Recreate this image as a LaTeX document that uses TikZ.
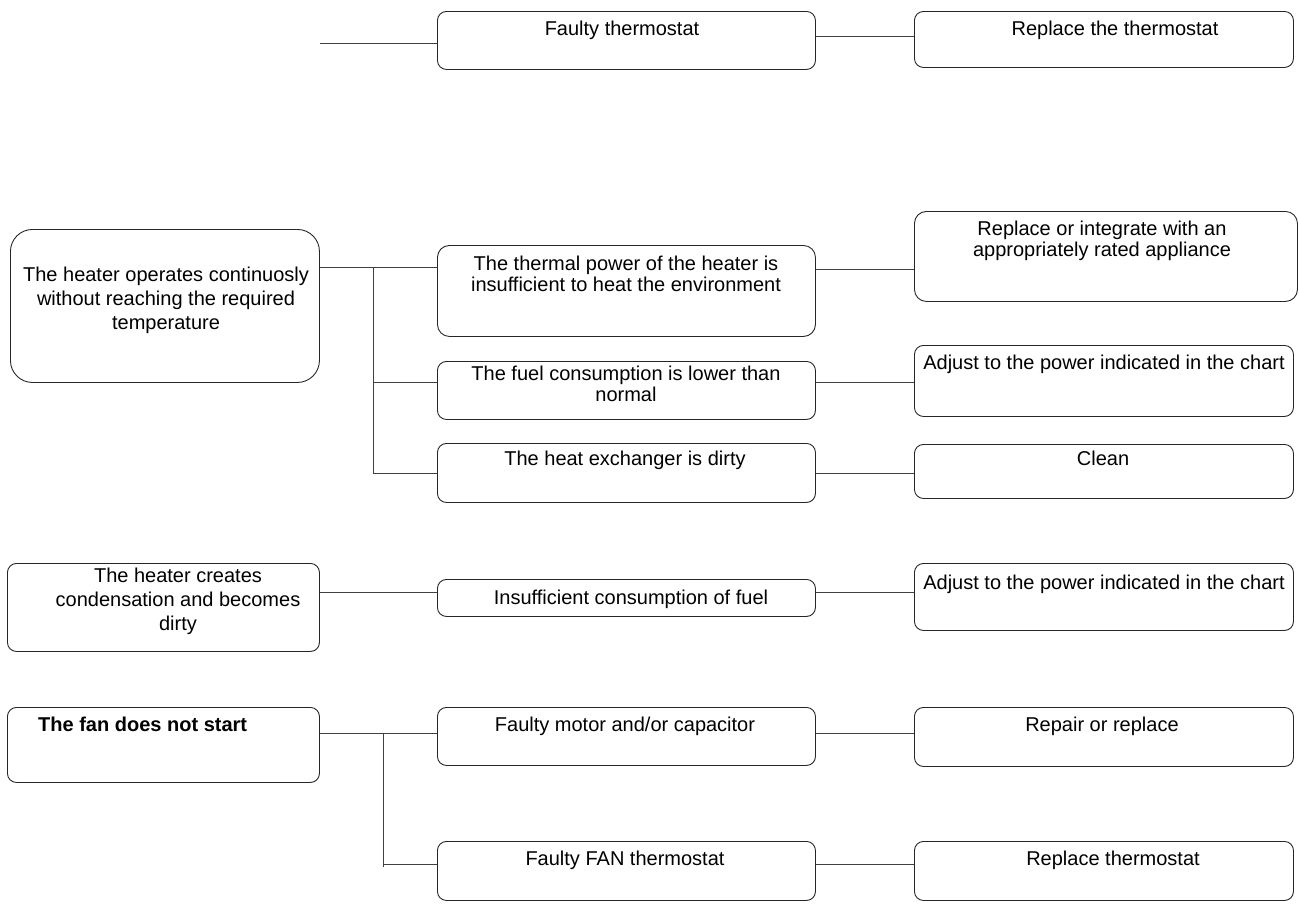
\documentclass[tikz,border=0pt]{standalone}
\usepackage{fontspec}
\setmainfont{Liberation Sans}
\newcommand\mybox[6][]{\node[bx, #1, minimum width={#5-#3}, minimum height={#6-#4}, anchor=north west] (#2) at (#3,#4) {};}
\tikzset{
  bx/.style={draw=black!85, line width=0.9pt, rounded corners=9pt, inner sep=0pt},
  ln/.style={draw=black!75, line width=0.9pt},
  tx/.style={align=center, inner sep=0pt, anchor=base, font=\fontsize{20}{21}\selectfont},
  txw/.style={tx, font=\fontsize{20}{24}\selectfont}
}
\begin{document}
\begin{tikzpicture}[x=1pt, y=-1pt]
\useasboundingbox (0,0) rectangle (1299,903);
% boxes
\mybox{ft}{437}{11}{815}{69}
\mybox{rt}{914}{11}{1293}{67}
\mybox[rounded corners=22pt]{h}{10}{229}{319}{382}
\mybox[rounded corners=12pt]{tp}{437}{245}{815}{336}
\mybox[rounded corners=12pt]{ri}{914}{211}{1297}{301}
\mybox{fc}{437}{361}{815}{419}
\mybox{he}{437}{443}{815}{502}
\mybox{aa}{914}{345}{1293}{416}
\mybox{cl}{914}{444}{1293}{498}
\mybox{cd}{7}{563}{319}{651}
\mybox{ins}{437}{579}{815}{616}
\mybox{ab}{914}{563}{1293}{630}
\mybox{fan}{7}{707}{319}{782}
\mybox{fm}{437}{707}{815}{765}
\mybox{rr}{914}{707}{1293}{766}
\mybox{fft}{437}{841}{815}{900}
\mybox{rth}{914}{841}{1293}{900}
% texts (anchor base = baseline of last line)
\node[tx] (ft-t) at (622,35) {Faulty thermostat};
\node[tx] (rt-t) at (1115,35) {Replace the thermostat};
\node[txw] (h-t) at (166,329) {The heater operates continuosly\\without reaching the required\\temperature};
\node[tx] (tp-t) at (626,291) {The thermal power of the heater is\\insufficient to heat the environment};
\node[tx] (ri-t) at (1102,256) {Replace or integrate with an\\appropriately rated appliance};
\node[tx] (fc-t) at (626,401) {The fuel consumption is lower than\\normal};
\node[tx] (he-t) at (625,465) {The heat exchanger is dirty};
\node[tx] (aa-t) at (1104,369) {Adjust to the power indicated in the chart};
\node[tx] (cl-t) at (1103,465) {Clean};
\node[txw] (cd-t) at (178,630) {The heater creates\\condensation and becomes\\dirty};
\node[tx] (ins-t) at (631,604) {Insufficient consumption of fuel};
\node[tx] (ab-t) at (1104,589) {Adjust to the power indicated in the chart};
\node[tx, anchor=base west, font=\fontsize{20}{21}\selectfont\bfseries] (fan-t) at (38,731) {The fan does not start};
\node[tx] (fm-t) at (625,731) {Faulty motor and/or capacitor};
\node[tx] (rr-t) at (1102,731) {Repair or replace};
\node[tx] (fft-t) at (625,865) {Faulty FAN thermostat};
\node[tx] (rth-t) at (1113,865) {Replace thermostat};
% connectors
\coordinate (free) at (320,43);
\coordinate (j1) at (373,267);
\coordinate (j1b) at (373,473);
\coordinate (j2) at (383,733);
\coordinate (j2b) at (383,867);
\draw[ln] (free) -- (ft.west |- free);
\draw[ln] (ft.east |- 0,36) -- (rt.west |- 0,36);
\draw[ln] (h.east |- j1) -- (tp.west |- j1);
\draw[ln] (j1) -- (j1b);
\draw[ln] (j1 |- 0,382) -- (fc.west |- 0,382);
\draw[ln] (j1b) -- (he.west |- j1b);
\draw[ln] (tp.east |- 0,269) -- (ri.west |- 0,269);
\draw[ln] (fc.east |- 0,382) -- (aa.west |- 0,382);
\draw[ln] (he.east |- j1b) -- (cl.west |- j1b);
\draw[ln] (cd.east |- 0,592) -- (ins.west |- 0,592);
\draw[ln] (ins.east |- 0,592) -- (ab.west |- 0,592);
\draw[ln] (fan.east |- j2) -- (fm.west |- j2);
\draw[ln] (j2) -- (j2b);
\draw[ln] (j2 |- 0,864) -- (fft.west |- 0,864);
\draw[ln] (fm.east |- j2) -- (rr.west |- j2);
\draw[ln] (fft.east |- 0,864) -- (rth.west |- 0,864);
\end{tikzpicture}
\end{document}
